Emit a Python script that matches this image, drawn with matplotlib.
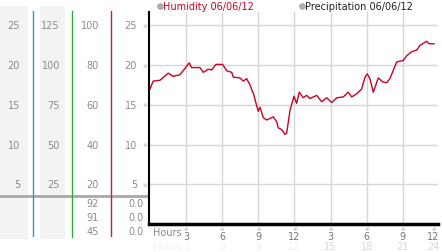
import matplotlib
matplotlib.use("Agg")
import matplotlib.pyplot as plt
from matplotlib.patches import Rectangle
from matplotlib.transforms import blended_transform_factory

# humidity trace (hours, value)
hours = [0.0, 0.27, 0.83, 1.52, 1.91, 2.49, 2.91, 3.26, 3.46, 4.15, 4.43, 4.84,
         5.12, 5.48, 6.04, 6.37, 6.79, 6.92, 7.47, 7.75, 8.03, 8.31, 8.64, 8.86,
         8.99, 9.14, 9.41, 9.69, 9.97, 10.24, 10.52, 10.66, 10.94, 11.21, 11.35,
         11.63, 11.96, 12.18, 12.40, 12.73, 13.01, 13.29, 13.85, 14.26, 14.68,
         15.09, 15.51, 16.05, 16.47, 16.75, 17.17, 17.58, 17.86, 18.05, 18.27,
         18.55, 18.96, 19.33, 19.66, 19.93, 20.27, 20.49, 21.04, 21.32, 21.74,
         22.15, 22.43, 22.98, 23.20, 23.59]
humidity = [17.0, 18.0, 18.1, 19.0, 18.6, 18.8, 19.6, 20.3, 19.7, 19.7, 19.1, 19.5,
            19.4, 20.1, 20.1, 19.3, 19.1, 18.5, 18.4, 18.0, 18.3, 17.5, 16.2, 14.9,
            14.2, 14.7, 13.4, 13.1, 13.3, 13.5, 12.9, 12.1, 11.9, 11.3, 11.4,
            14.3, 16.1, 15.2, 16.6, 15.9, 16.2, 15.8, 16.2, 15.4, 15.9,
            15.3, 15.9, 16.0, 16.6, 16.0, 16.4, 17.0, 18.5, 18.9, 18.3,
            16.6, 18.4, 17.9, 17.8, 18.3, 19.6, 20.4, 20.6, 21.2, 21.7,
            21.9, 22.5, 23.0, 22.7, 22.7]

y_ticks = [5, 10, 15, 20, 25]
col1_labels = ["5", "10", "15", "20", "25"]
col2_labels = ["25", "50", "75", "100", "125"]
col3_labels = ["20", "40", "60", "80", "100"]
col4_labels = ["5", "10", "15", "20", "25"]
x_ticks = [3, 6, 9, 12, 15, 18, 21, 24]
x_labels = ["3", "6", "9", "12", "3", "6", "9", "12"]
x_labels2 = ["3", "6", "9", "12", "15", "18", "21", "24"]
bottom_col3 = ["92", "91", "45"]
bottom_col4 = ["0.0", "0.0", "0.0"]

W, H = 442, 253
fig = plt.figure(figsize=(W / 100, H / 100), dpi=100)

# pixel-space background axes for the left panel and annotations
bg = fig.add_axes([0, 0, 1, 1])
bg.set_xlim(0, W)
bg.set_ylim(H, 0)
bg.axis("off")

ax = fig.add_axes([149 / W, (H - 225) / H, 288.5 / W, 212 / H])
ax.set_xlim(-0.08, 23.88)
ax.set_ylim(0, 26.7)
ax.plot(hours, humidity, color="#cc0022", lw=1)
ax.set_xticks(x_ticks[:-1])
ax.set_yticks(y_ticks)
ax.grid(True, color="#d6d6d6", lw=1)
ax.tick_params(length=0, labelleft=False, labelbottom=False)
for s in ["top", "right"]:
    ax.spines[s].set_visible(False)
ax.spines["left"].set_linewidth(1.5)
ax.spines["bottom"].set_linewidth(2.5)
ax.set_axisbelow(True)

fs = 7
grey = "#8a8a8a"

# left panel
bg.add_patch(Rectangle((0, 7), 28, 233, color="#f3f3f3", lw=0))
bg.add_patch(Rectangle((40, 7), 25, 233, color="#f3f3f3", lw=0))
bg.plot([0, 149], [197, 197], color="#a8a8a8", lw=2)
bg.plot([33, 33], [12, 237], color="#3399cc", lw=1)
bg.plot([72, 72], [12, 238], color="#33aa33", lw=1)
bg.plot([111, 111], [12, 237], color="#bb2233", lw=1)

ty = blended_transform_factory(bg.transData, ax.transData)
for v, a, b, c, d in zip(y_ticks, col1_labels, col2_labels, col3_labels, col4_labels):
    bg.text(20, v, a, transform=ty, ha="right", va="center", fontsize=fs, color=grey)
    bg.text(60, v, b, transform=ty, ha="right", va="center", fontsize=fs, color=grey)
    bg.text(99, v, c, transform=ty, ha="right", va="center", fontsize=fs, color=grey)
    bg.text(137, v, d, transform=ty, ha="right", va="center", fontsize=fs, color=grey)
    bg.text(145, v, "※", transform=ty, ha="center", va="center", fontsize=4, color="#aaaaaa")

for i, (a, b) in enumerate(zip(bottom_col3, bottom_col4)):
    yy = 204.5 + 14 * i
    bg.text(99, yy, a, ha="right", va="center", fontsize=fs, color=grey)
    bg.text(144, yy, b, ha="right", va="center", fontsize=fs, color=grey)

# x labels (the last one is pulled in to stay inside the image)
tx = blended_transform_factory(ax.transData, bg.transData)
bg.text(153, 233, "Hours", ha="left", va="center", fontsize=fs, color=grey)
bg.text(153, 247, "Hours", ha="left", va="center", fontsize=fs, color="#f2f2f2")
for h, a, b in zip(x_ticks, x_labels, x_labels2):
    hx = min(h, 23.55)
    bg.text(hx, 230, "※", transform=tx, ha="center", va="center", fontsize=4, color="#aaaaaa")
    bg.text(hx, 237.5, a, transform=tx, ha="center", va="center", fontsize=fs, color="#777777")
    bg.text(hx, 247, b, transform=tx, ha="center", va="center", fontsize=fs,
            color="#d8d8d8" if h > 12 else "#f0f0f0")

# legend
bg.plot([160], [7], "o", ms=4, color="#b0b0b0", mec="#909090", mew=0.5)
bg.text(163, 7, "Humidity 06/06/12", ha="left", va="center", fontsize=fs, color="#cc0022")
bg.plot([302], [7], "o", ms=4, color="#b0b0b0", mec="#909090", mew=0.5)
bg.text(305, 7, "Precipitation 06/06/12", ha="left", va="center", fontsize=fs, color="#222222")

fig.savefig("out.png", dpi=100)
